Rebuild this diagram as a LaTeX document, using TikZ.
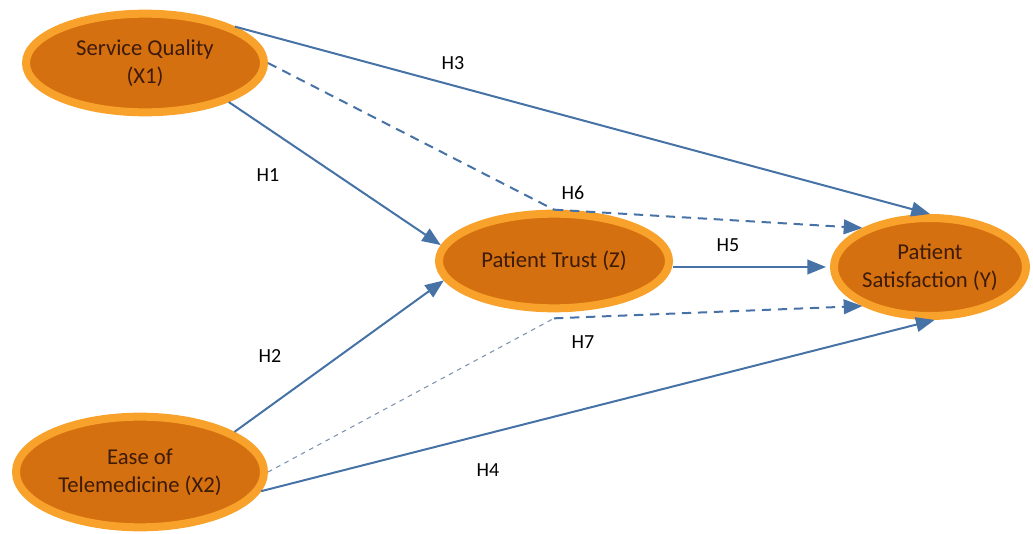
\documentclass[tikz,border=0pt]{standalone}
\usepackage{fontspec}
\setmainfont{Carlito}
\usepackage{tikz}
\usetikzlibrary{arrows.meta,shapes.geometric,shadows,calc}

\definecolor{ringorange}{HTML}{F8A22C}
\definecolor{coreorange}{HTML}{D4700F}
\definecolor{textbrown}{HTML}{3E1A08}
\definecolor{linkblue}{HTML}{4672A6}
\definecolor{faintblue}{HTML}{7D93AE}

\tikzset{
  construct/.style={ellipse, inner sep=0pt, align=center, fill=coreorange,
    draw=ringorange, line width=6pt, text=textbrown, font=\fontsize{17}{21}\selectfont,
    drop shadow={opacity=0.2, shadow xshift=2pt, shadow yshift=-2pt}},
  path link/.style={linkblue, line width=1.5pt, -{Triangle[length=14pt,width=11pt]}},
  indirect/.style={linkblue, line width=1.5pt, dash pattern=on 7pt off 5pt},
  weak link/.style={faintblue, line width=0.8pt, dash pattern=on 3.5pt off 3.5pt},
  hyp/.style={font=\fontsize{15}{18}\selectfont, text=black}
}

\begin{document}
\begin{tikzpicture}[x=0.75pt, y=-0.75pt, >=Stealth]
\useasboundingbox (0,0) rectangle (1033,534);

% Constructs
\node[construct, minimum width=178.5pt, minimum height=74pt] (quality) at (145,63) {Service Quality\\(X1)};
\node[construct, minimum width=186pt, minimum height=83pt] (ease) at (140,472) {Ease of\\Telemedicine (X2)};
\node[construct, minimum width=172.5pt, minimum height=71pt] (trust) at (554,261) {Patient Trust (Z)};
\node[construct, minimum width=144pt, minimum height=73.5pt] (sat) at (930,267) {Patient\\Satisfaction (Y)};

% Mediation joints on Z
\coordinate (topjoint) at (trust.north);
\coordinate (lowjoint) at ($(trust.south)+(0,6)$);

% Direct paths
\draw[path link] (quality.22) -- (sat.north);
\draw[path link] (quality.-25) -- (trust.172);
\draw[path link] (ease.23) -- (trust.190);
\draw[path link] (ease.-9) -- (sat.-85);
\draw[path link, shorten >=3pt] (trust.east |- sat.west) -- (sat.west);

% Indirect paths
\draw[indirect] (quality.east) -- (topjoint);
\draw[indirect, -{Triangle[length=14pt,width=11pt]}] (topjoint) -- (sat.150);
\draw[weak link] (ease.east) -- (lowjoint);
\draw[indirect, -{Triangle[length=14pt,width=11pt]}] (lowjoint) -- (sat.210);

% Hypothesis labels
\node[hyp] (h1) at (268,175) {H1};
\node[hyp] (h2) at (270,356) {H2};
\node[hyp] (h3) at (453,63) {H3};
\node[hyp] (h4) at (488,470) {H4};
\node[hyp] (h5) at (728,245) {H5};
\node[hyp] (h6) at (573,193) {H6};
\node[hyp] (h7) at (583,342) {H7};

\end{tikzpicture}
\end{document}
